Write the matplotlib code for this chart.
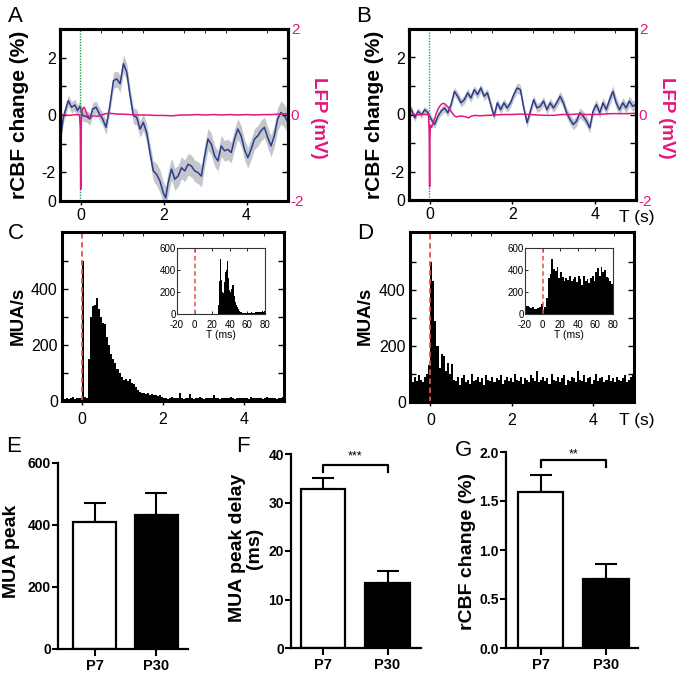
import numpy as np
import matplotlib
matplotlib.use('Agg')
import matplotlib.pyplot as plt

plt.rcParams['font.family'] = ['Liberation Sans', 'DejaVu Sans']
plt.rcParams['axes.unicode_minus'] = False

t_a = [-0.50, -0.42, -0.30, -0.22, -0.14, -0.08, -0.02, 0.05, 0.14, 0.22, 0.29, 0.37, 0.45, 0.53,
       0.61, 0.69, 0.79, 0.87, 0.95, 1.03, 1.11, 1.19, 1.27, 1.35, 1.43, 1.51, 1.59, 1.67, 1.75,
       1.83, 1.91, 1.99, 2.05, 2.11, 2.19, 2.27, 2.35, 2.43, 2.51, 2.59, 2.67, 2.75, 2.83, 2.91,
       2.99, 3.07, 3.15, 3.23, 3.31, 3.39, 3.47, 3.55, 3.63, 3.71, 3.79, 3.87, 3.95, 4.03, 4.11,
       4.19, 4.27, 4.35, 4.43, 4.51, 4.59, 4.67, 4.75, 4.83, 4.91, 5.00]
cbf_a = [-0.96, -0.08, 0.50, 0.27, 0.35, 0.15, 0.30, -0.02, -0.05, -0.14, 0.21, 0.27, 0.04, -0.14,
         -0.43, 0.21, 1.20, 1.26, 1.09, 1.79, 1.50, 0.68, -0.02, -0.08, -0.49, -0.26, -0.61, -1.31,
         -1.95, -2.07, -2.30, -2.71, -2.89, -2.36, -1.89, -2.24, -2.13, -1.84, -1.95, -1.72, -1.78,
         -1.95, -2.01, -2.13, -1.43, -0.84, -1.02, -1.43, -1.60, -1.08, -1.25, -1.20, -1.31, -0.84,
         -0.49, -0.73, -1.20, -1.49, -1.20, -0.84, -0.73, -0.55, -0.43, -0.78, -1.08, -0.73, -0.14,
         0.09, -0.02, -0.26]
sem_a = [0.20, 0.20, 0.20, 0.20, 0.20, 0.20, 0.20, 0.20, 0.20, 0.22, 0.22, 0.22, 0.22, 0.22,
         0.25, 0.25, 0.28, 0.28, 0.30, 0.32, 0.30, 0.28, 0.28, 0.28, 0.28, 0.30, 0.30, 0.32,
         0.35, 0.38, 0.40, 0.40, 0.40, 0.40, 0.38, 0.38, 0.38, 0.38, 0.38, 0.38, 0.38, 0.38,
         0.38, 0.38, 0.38, 0.38, 0.38, 0.36, 0.36, 0.36, 0.36, 0.36, 0.36, 0.36, 0.36, 0.36,
         0.36, 0.36, 0.36, 0.36, 0.36, 0.36, 0.36, 0.36, 0.38, 0.38, 0.40, 0.40, 0.40, 0.40]

t_b = [-0.50, -0.44, -0.36, -0.28, -0.20, -0.12, -0.04, 0.04, 0.12, 0.20, 0.28, 0.36, 0.44, 0.52,
       0.60, 0.68, 0.76, 0.84, 0.92, 1.00, 1.08, 1.16, 1.24, 1.32, 1.40, 1.48, 1.56, 1.64, 1.72,
       1.80, 1.88, 1.96, 2.04, 2.12, 2.20, 2.28, 2.36, 2.44, 2.52, 2.60, 2.68, 2.76, 2.84, 2.92,
       3.00, 3.08, 3.16, 3.24, 3.32, 3.40, 3.48, 3.56, 3.64, 3.72, 3.80, 3.88, 3.96, 4.04, 4.12,
       4.20, 4.28, 4.36, 4.44, 4.52, 4.60, 4.68, 4.76, 4.84, 4.92, 5.00]
cbf_b = [0.23, 0.17, -0.12, 0.12, -0.02, 0.17, 0.06, -0.17, -0.35, -0.06, 0.12, 0.23, 0.06, 0.35,
         0.81, 0.64, 0.41, 0.52, 0.76, 0.58, 0.87, 0.70, 0.93, 0.64, 0.76, 0.35, -0.06, 0.41, 0.17,
         0.41, 0.23, 0.41, 0.70, 0.93, 0.87, 0.23, -0.29, 0.12, 0.52, 0.23, 0.29, 0.47, 0.17, 0.41,
         0.23, 0.41, 0.64, 0.41, 0.06, -0.17, -0.35, -0.23, 0.06, -0.06, -0.23, -0.47, 0.12, 0.35,
         0.06, 0.41, 0.17, 0.52, 0.81, 0.41, 0.17, 0.41, 0.23, 0.47, 0.29, 0.35]
sem_b = [0.12, 0.12, 0.12, 0.12, 0.12, 0.12, 0.12, 0.14, 0.14, 0.14, 0.14, 0.14, 0.14, 0.15,
         0.15, 0.15, 0.15, 0.15, 0.15, 0.15, 0.15, 0.15, 0.15, 0.15, 0.15, 0.15, 0.15, 0.15, 0.15,
         0.15, 0.15, 0.15, 0.16, 0.18, 0.18, 0.16, 0.16, 0.16, 0.16, 0.16, 0.16, 0.16, 0.16, 0.16,
         0.16, 0.16, 0.18, 0.18, 0.18, 0.18, 0.18, 0.18, 0.18, 0.18, 0.18, 0.18, 0.18, 0.18, 0.18,
         0.18, 0.18, 0.20, 0.20, 0.20, 0.18, 0.18, 0.18, 0.18, 0.18, 0.18]

## LFP traces (mV)
lfp_t_a = [-0.5, -0.4, -0.3, -0.2, -0.1, -0.03, -0.01, 0.0, 0.005, 0.02, 0.05, 0.08, 0.11, 0.15,
           0.2, 0.25, 0.3, 0.4, 0.5, 0.6, 0.7, 0.8, 0.9, 1.0, 1.2, 1.4, 1.6, 1.8, 2.0, 2.2, 2.4,
           2.6, 2.8, 3.0, 3.2, 3.4, 3.6, 3.8, 4.0, 4.2, 4.4, 4.6, 4.8, 5.0]
lfp_a = [0.0, 0.01, -0.01, 0.0, 0.01, 0.0, -0.3, -1.73, -0.8, 0.05, 0.15, 0.18, 0.12, 0.02,
         -0.04, -0.05, -0.02, -0.03, 0.0, 0.03, 0.04, 0.03, 0.02, 0.02, 0.01, 0.0, 0.0, -0.01,
         -0.01, -0.02, 0.0, 0.0, 0.01, 0.0, 0.01, 0.0, 0.01, 0.0, 0.01, 0.0, 0.01, 0.01, 0.02, 0.03]
lfp_t_b = [-0.5, -0.4, -0.3, -0.2, -0.1, -0.03, -0.01, 0.0, 0.005, 0.02, 0.05, 0.08, 0.12, 0.16,
           0.2, 0.25, 0.3, 0.35, 0.4, 0.45, 0.5, 0.55, 0.6, 0.65, 0.7, 0.8, 0.9, 0.95, 1.0, 1.1,
           1.2, 1.4, 1.6, 1.8, 2.0, 2.2, 2.4, 2.6, 2.8, 3.0, 3.2, 3.4, 3.6, 3.8, 4.0, 4.2, 4.4,
           4.6, 4.8, 5.0]
lfp_b = [0.0, 0.01, -0.01, 0.01, 0.0, 0.0, -0.4, -1.69, -0.6, -0.25, -0.3, -0.2, -0.1, 0.02,
         0.12, 0.2, 0.25, 0.26, 0.22, 0.17, 0.1, 0.03, -0.03, -0.06, -0.04, -0.04, -0.06, -0.08,
         -0.04, -0.02, -0.03, -0.02, -0.01, 0.0, 0.0, 0.01, 0.0, -0.01, -0.02, -0.02, 0.0, 0.0,
         0.01, 0.0, 0.0, 0.01, 0.02, 0.02, 0.02, 0.03]

## MUA histograms, 50 ms bins from -0.5 s (MUA/s)
mua_c = [10, 8, 12, 6, 10, 14, 8, 10, 12, 12,
         500, 15, 10, 150, 300, 340, 345, 370, 330, 300,
         280, 275, 230, 200, 170, 150, 135, 115, 100, 85,
         75, 78, 72, 80, 65, 62, 50, 40, 32, 30,
         28, 25, 30, 22, 25, 20, 22, 18, 20, 14,
         10, 12, 8, 10, 14, 10, 9, 12, 28, 10, 8, 12, 10, 25, 10, 8, 12, 10, 14, 10,
         8, 10, 12, 9, 10, 22, 10, 12, 8, 10, 12, 10, 9, 14, 10, 8, 12, 10, 11, 9,
         12, 10, 8, 14, 10, 12, 9, 10, 12, 8, 10, 14, 10, 12, 9, 10, 8, 12, 10, 14]
mua_d = [85, 70, 90, 75, 95, 80, 70, 88, 100, 130,
         500, 430, 290, 200, 120, 170, 165, 110, 140, 100, 135, 80,
         75, 90, 60, 85, 95, 70, 80, 65, 100, 75, 80, 90, 70, 85, 60, 95, 80, 75, 90, 70,
         85, 80, 95, 65, 80, 90, 75, 85, 70, 100, 80, 75, 90, 65, 85, 80, 70, 95, 85, 75,
         110, 70, 80, 90, 75, 85, 65, 100, 80, 75, 90, 70, 85, 95, 60, 80, 75, 90, 85, 70,
         110, 80, 75, 95, 70, 85, 90, 65, 80, 100, 75, 85, 90, 70, 80, 95, 75, 85, 70, 90,
         80, 75, 85, 95, 70, 80, 90, 100]

## inset histograms: C in 1 ms bins, D in 2 ms bins, from -20 ms
ins_c = [0] * 47 + [80, 300, 500, 310, 200, 190, 290, 330, 380, 400, 480, 330, 220, 200, 230,
                    270, 265, 260, 160, 110, 80, 60, 45, 30, 25, 20,
                    15, 12, 10, 12, 8, 10, 12, 10, 8, 10, 12, 14, 10, 12, 15, 12, 18, 14, 16,
                    18, 15, 20, 18, 22, 25, 20, 28]
ins_d = [70, 75, 60, 55, 60, 50, 45, 55, 60, 90, 40, 60, 150, 330, 360, 500, 410, 390, 430, 330,
         380, 340, 300, 330, 310, 350, 300, 320, 340, 290, 350, 320, 260, 350, 300, 320, 280, 330,
         350, 300, 380, 420, 350, 430, 380, 400, 340, 330, 300, 270]

## bar panels
groups = ['P7', 'P30']
mua_peak = [410, 432]
mua_peak_err = [62, 70]
peak_delay = [32.7, 13.4]
peak_delay_err = [2.4, 2.4]
cbf_change = [1.59, 0.70]
cbf_change_err = [0.18, 0.16]

BLUE = '#2e3a8c'
BAND = '#c3c7cc'
PINK = '#e2187f'
GREEN = '#1fa050'
RED = '#e35050'
W, H = 683, 675

fig = plt.figure(figsize=(6.83, 6.75), dpi=100)


def box(l, t, r, b):
    return [l / W, 1 - b / H, (r - l) / W, (b - t) / H]


def ftext(x, y, s, **kw):
    fig.text(x / W, 1 - y / H, s, ha='center', va='center', **kw)


def frame(ax, lw=2.2):
    for sp in ax.spines.values():
        sp.set_linewidth(lw)


def trace_panel(rect, t, cbf, sem, lt, lfp):
    t = np.array(t); cbf = np.array(cbf); sem = np.array(sem)
    ax = fig.add_axes(rect)
    ax.fill_between(t, cbf - sem, cbf + sem, color=BAND, lw=0)
    ax.plot(t, cbf, color=BLUE, lw=1.1)
    ax.axvline(-0.02, color=GREEN, lw=1.0, ls=(0, (1, 1)))
    ax.set_xlim(-0.5, 5.0)
    ax.set_ylim(-3, 3)
    ax.set_yticks([-3, -2, -1, 0, 1, 2])
    ax.set_yticklabels(['0', '-2', '', '0', '', '2'])
    ax.set_xticks([0, 2, 4])
    ax.set_xticks(np.arange(-0.5, 5.01, 0.5), minor=True)
    ax.tick_params(axis='y', direction='in', length=4, width=1, labelsize=11.5, pad=3)
    ax.tick_params(axis='x', direction='out', length=3, width=1, labelsize=11.5, pad=2)
    ax.tick_params(axis='x', which='minor', direction='in', top=True, bottom=False, length=3)
    frame(ax)
    ax2 = ax.twinx()
    ax2.plot(lt, lfp, color=PINK, lw=1.1)
    ax2.set_ylim(-2, 2)
    ax2.set_yticks([-2, 0, 2])
    ax2.set_yticks([-4 / 3, -2 / 3, 2 / 3, 4 / 3], minor=True)
    ax2.tick_params(axis='y', which='both', direction='in', length=4, width=1,
                    colors='k', labelcolor=PINK, labelsize=11, pad=2)
    frame(ax2)
    return ax


def hist_panel(rect, vals, inset_rect, ivals, iwidth, iline):
    ax = fig.add_axes(rect)
    edges = np.arange(len(vals) + 1) * 0.05 - 0.5
    ax.stairs(vals, edges, fill=True, color='k', lw=0)
    ax.axvline(0, color=RED, lw=1.3, ls=(0, (3, 2)))
    ax.set_xlim(-0.5, 5.0)
    ax.set_ylim(0, 605)
    ax.set_yticks([0, 200, 400])
    ax.set_yticks([100, 300, 500], minor=True)
    ax.set_xticks([0, 2, 4])
    ax.set_xticks(np.arange(-0.5, 5.01, 0.5), minor=True)
    ax.tick_params(axis='y', which='both', direction='in', left=True, right=True, length=4,
                   width=1, labelsize=11.5, pad=3)
    ax.tick_params(axis='x', direction='out', length=3, width=1, labelsize=11.5, pad=5)
    ax.tick_params(axis='x', which='minor', direction='in', top=True, bottom=False, length=3)
    frame(ax)

    ins = fig.add_axes(inset_rect)
    iedges = np.arange(len(ivals) + 1) * iwidth - 20
    ins.stairs(ivals, iedges, fill=True, color='k', lw=0)
    ins.axvline(iline, color=RED, lw=1.1, ls=(0, (3, 2)))
    ins.set_xlim(-20, 80)
    ins.set_ylim(0, 600)
    ins.set_xticks([-20, 0, 20, 40, 60, 80])
    ins.set_yticks([0, 200, 400, 600])
    ins.tick_params(direction='in', length=2, width=0.6, labelsize=7, pad=1, top=True)
    ins.tick_params(axis='x', pad=4.5)
    ins.set_xlabel('T (ms)', fontsize=7.5, labelpad=0)
    for sp in ins.spines.values():
        sp.set_linewidth(0.8)
        sp.set_color('#333333')
    return ax


trace_panel(box(60, 29, 288, 201), t_a, cbf_a, sem_a, lfp_t_a, lfp_a)
trace_panel(box(409, 29, 636, 200), t_b, cbf_b, sem_b, lfp_t_b, lfp_b)
hist_panel(box(62, 232, 284, 401), mua_c, box(177, 248, 265, 314), ins_c, 1, 0.5)
hist_panel(box(410, 232, 634, 402), mua_d, box(525, 248, 613, 314), ins_d, 2, 0)


def bar_panel(rect, vals, errs, ylim, yticks, ylabels, xlim, sig=None):
    ax = fig.add_axes(rect)
    x = np.arange(len(groups))
    ax.bar(x, vals, width=0.69, color=['white', 'black'], edgecolor='black', lw=1.6, zorder=2)
    ax.errorbar(x, vals, yerr=[[0] * len(vals), errs], fmt='none', ecolor='black',
                elinewidth=1.5, capsize=8, capthick=1.5, zorder=1)
    ax.set_xlim(*xlim)
    ax.set_ylim(*ylim)
    ax.set_yticks(yticks)
    ax.set_yticklabels(ylabels, fontfamily=['Liberation Sans Narrow', 'Liberation Sans'],
                       fontweight='bold', fontsize=10)
    ax.set_xticks(x)
    ax.set_xticklabels(groups, fontfamily=['Liberation Sans Narrow', 'Liberation Sans'],
                       fontweight='bold', fontsize=10.5)
    ax.tick_params(axis='y', length=4, width=1.5, pad=1)
    ax.tick_params(axis='x', length=5, width=1.5, pad=2)
    for s in ['top', 'right']:
        ax.spines[s].set_visible(False)
    for s in ['left', 'bottom']:
        ax.spines[s].set_linewidth(1.6)
    if sig is not None:
        ytop, ydrop, stars, ystar = sig
        ax.plot([0, 0, 1, 1], [ydrop, ytop, ytop, ydrop], color='black', lw=1.6, clip_on=False)
        ax.text(0.5, ystar, stars, ha='center', va='center', fontsize=9, clip_on=False)
    return ax


bar_panel(box(58, 463, 188, 649), mua_peak, mua_peak_err, (0, 600), [0, 200, 400, 600],
          ['0', '200', '400', '600'], (-0.59, 1.51))
bar_panel(box(291, 454, 421, 648), peak_delay, peak_delay_err, (0, 40), [0, 10, 20, 30, 40],
          ['0', '10', '20', '30', '40'], (-0.5, 1.52), (37.7, 36.2, '***', 39.6))
bar_panel(box(506, 452, 638, 648), cbf_change, cbf_change_err, (0, 2.0),
          [0, 0.5, 1.0, 1.5, 2.0], ['0.0', '0.5', '1.0', '1.5', '2.0'], (-0.53, 1.49),
          (1.915, 1.85, '**', 1.98))

## panel letters
for letter, x, y in [('A', 15, 17), ('B', 364, 17), ('C', 16, 233), ('D', 365, 233),
                     ('E', 14, 447), ('F', 243, 447), ('G', 463, 450)]:
    ftext(x, y, letter, fontsize=16)

## axis labels
ftext(20, 115, 'rCBF change (%)', rotation=90, fontsize=15, fontweight='bold')
ftext(319, 118, 'LFP (mV)', rotation=270, fontsize=13.5, fontweight='bold', color=PINK)
ftext(375, 115, 'rCBF change (%)', rotation=90, fontsize=15, fontweight='bold')
ftext(667, 118, 'LFP (mV)', rotation=270, fontsize=13.5, fontweight='bold', color=PINK)
ftext(18, 316, 'MUA/s', rotation=90, fontsize=13.5, fontweight='bold')
ftext(365, 316, 'MUA/s', rotation=90, fontsize=13.5, fontweight='bold')
ftext(12, 551, 'MUA peak', rotation=90, fontsize=14, fontweight='bold')
ftext(246, 548, 'MUA peak delay\n(ms)', rotation=90, fontsize=14, fontweight='bold',
      linespacing=1.0, multialignment='center')
ftext(467, 552, 'rCBF change (%)', rotation=90, fontsize=14, fontweight='bold')
ftext(637, 218, 'T (s)', fontsize=12.5)
ftext(637, 420, 'T (s)', fontsize=12.5)

fig.savefig('out.png', dpi=100)
